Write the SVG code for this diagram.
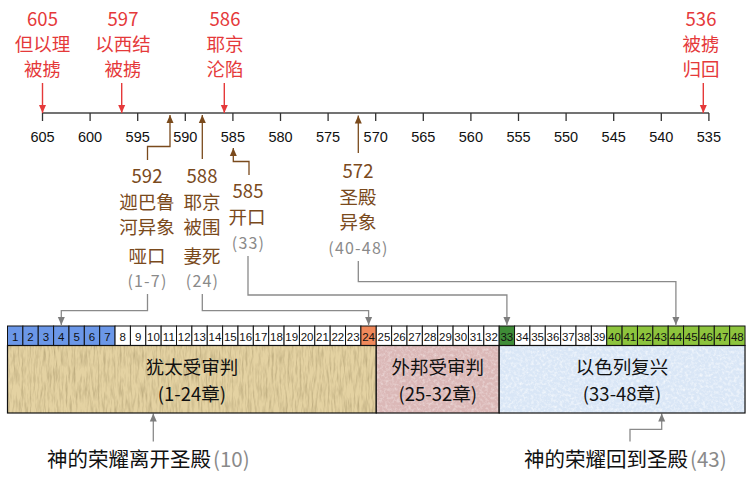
<svg xmlns="http://www.w3.org/2000/svg" width="752" height="480" viewBox="0 0 752 480">
<style>
.ax{font-family:"Liberation Sans",Arial,sans-serif;font-size:14.5px;fill:#111;text-anchor:middle}
.red{font-family:"Noto Sans CJK SC","Noto Sans",sans-serif;font-size:18.5px;fill:#e5393a;text-anchor:middle}
.brn{font-family:"Noto Sans CJK SC","Noto Sans",sans-serif;font-size:18.5px;fill:#7a4a1c;text-anchor:middle}
.gry{font-family:"Noto Sans CJK SC","Noto Sans",sans-serif;font-size:16px;fill:#8a8a8a;text-anchor:middle;letter-spacing:1.2px}
.cell{stroke:#111;stroke-width:1}
.cn{font-family:"Liberation Sans",Arial,sans-serif;font-size:11.5px;fill:#111;text-anchor:middle}
.box{stroke:#111;stroke-width:1.2}
.bt{font-family:"Noto Sans CJK SC","Noto Sans",sans-serif;font-size:18.5px;fill:#111;text-anchor:middle}
.bot{font-family:"Noto Sans CJK SC","Noto Sans",sans-serif;font-size:20.5px;fill:#111}
.rl{stroke:#e5393a;stroke-width:1.4;fill:none}
.bl{stroke:#7a4a1c;stroke-width:1.3;fill:none}
.gl{stroke:#8a8a8a;stroke-width:1.3;fill:none}
.tick{stroke:#333;stroke-width:1.3}
</style>
<defs>
<marker id="ar" markerUnits="userSpaceOnUse" markerWidth="8" markerHeight="8" refX="8" refY="4" orient="auto"><path d="M0,0.5 L8,4 L0,7.5 z" fill="#e5393a"/></marker>
<marker id="ab" markerUnits="userSpaceOnUse" markerWidth="8" markerHeight="8" refX="8" refY="4" orient="auto"><path d="M0,0.5 L8,4 L0,7.5 z" fill="#7a4a1c"/></marker>
<marker id="ag" markerUnits="userSpaceOnUse" markerWidth="8" markerHeight="8" refX="8" refY="4" orient="auto"><path d="M0,0.5 L8,4 L0,7.5 z" fill="#7d7d7d"/></marker>
<filter id="paper" x="0" y="0" width="1" height="1">
<feTurbulence type="fractalNoise" baseFrequency="0.5 0.06" numOctaves="3" seed="4" result="n"/>
<feColorMatrix in="n" type="matrix" values="0 0 0 0 0.45  0 0 0 0 0.36  0 0 0 0 0.18  1.6 0 0 0 -0.65" result="c"/>
<feComposite in="c" in2="SourceAlpha" operator="in"/>
</filter>
<filter id="speck" x="0" y="0" width="1" height="1">
<feTurbulence type="fractalNoise" baseFrequency="0.35" numOctaves="3" seed="7" result="n"/>
<feColorMatrix in="n" type="matrix" values="0 0 0 0 1  0 0 0 0 1  0 0 0 0 1  1.8 0 0 0 -0.75" result="c"/>
<feComposite in="c" in2="SourceAlpha" operator="in"/>
</filter>
</defs>

<g id="axis">
<line x1="42.5" y1="113" x2="709" y2="113" stroke="#444" stroke-width="1.5"/>
<g class="tick">
<line x1="42.5" y1="113" x2="42.5" y2="121"/><line x1="90.1" y1="113" x2="90.1" y2="121"/><line x1="137.7" y1="113" x2="137.7" y2="121"/><line x1="185.3" y1="113" x2="185.3" y2="121"/><line x1="232.9" y1="113" x2="232.9" y2="121"/><line x1="280.5" y1="113" x2="280.5" y2="121"/><line x1="328.1" y1="113" x2="328.1" y2="121"/><line x1="375.7" y1="113" x2="375.7" y2="121"/><line x1="423.3" y1="113" x2="423.3" y2="121"/><line x1="470.9" y1="113" x2="470.9" y2="121"/><line x1="518.5" y1="113" x2="518.5" y2="121"/><line x1="566.1" y1="113" x2="566.1" y2="121"/><line x1="613.7" y1="113" x2="613.7" y2="121"/><line x1="661.3" y1="113" x2="661.3" y2="121"/><line x1="708.9" y1="113" x2="708.9" y2="121"/>
</g>
<text class="ax" x="42.5" y="141.5">605</text><text class="ax" x="90.1" y="141.5">600</text><text class="ax" x="137.7" y="141.5">595</text><text class="ax" x="185.3" y="141.5">590</text><text class="ax" x="232.9" y="141.5">585</text><text class="ax" x="280.5" y="141.5">580</text><text class="ax" x="328.1" y="141.5">575</text><text class="ax" x="375.7" y="141.5">570</text><text class="ax" x="423.3" y="141.5">565</text><text class="ax" x="470.9" y="141.5">560</text><text class="ax" x="518.5" y="141.5">555</text><text class="ax" x="566.1" y="141.5">550</text><text class="ax" x="613.7" y="141.5">545</text><text class="ax" x="661.3" y="141.5">540</text><text class="ax" x="708.9" y="141.5">535</text>
</g>

<g id="connectors">
<path class="rl" d="M42.5,83 V113" marker-end="url(#ar)"/>
<path class="rl" d="M121.7,83 V113" marker-end="url(#ar)"/>
<path class="rl" d="M224.3,83 V113" marker-end="url(#ar)"/>
<path class="rl" d="M703.3,83 V113" marker-end="url(#ar)"/>
<path class="bl" d="M147.5,160 V146.5 H170 V115" marker-end="url(#ab)"/>
<path class="bl" d="M202.3,159 V115" marker-end="url(#ab)"/>
<path class="bl" d="M249,175 V161.5 H233.3 V148" marker-end="url(#ab)"/>
<path class="bl" d="M358.3,153 V115.5" marker-end="url(#ab)"/>
<path class="gl" d="M147.5,294 V310.7 H61.3 V325" marker-end="url(#ag)"/>
<path class="gl" d="M202.3,294 V310.7 H368.6 V325" marker-end="url(#ag)"/>
<path class="gl" d="M248,256 V295 H506.9 V325" marker-end="url(#ag)"/>
<path class="gl" d="M358.3,261 V281.7 H675.9 V325" marker-end="url(#ag)"/>
<path class="gl" d="M153.3,441.5 V413.5" marker-end="url(#ag)"/>
<path class="gl" d="M630,441.5 V429.3 H661.7 V413.5" marker-end="url(#ag)"/>
</g>

<g id="ev605"><text class="red" x="42.5" y="26">605</text><text class="red" x="42.5" y="51">但以理</text><text class="red" x="42.5" y="76">被掳</text></g>
<g id="ev597"><text class="red" x="123" y="26">597</text><text class="red" x="123" y="51">以西结</text><text class="red" x="123" y="76">被掳</text></g>
<g id="ev586"><text class="red" x="225" y="26">586</text><text class="red" x="225" y="51">耶京</text><text class="red" x="225" y="76">沦陷</text></g>
<g id="ev536"><text class="red" x="701" y="26">536</text><text class="red" x="701" y="51">被掳</text><text class="red" x="701" y="76">归回</text></g>

<g id="ev592"><text class="brn" x="147" y="183">592</text><text class="brn" x="147" y="208.5">迦巴鲁</text><text class="brn" x="147" y="233.5">河异象</text><text class="brn" x="147" y="263">哑口</text><text class="gry" x="147.5" y="287">(1-7)</text></g>
<g id="ev588"><text class="brn" x="202" y="183">588</text><text class="brn" x="202" y="208.5">耶京</text><text class="brn" x="202" y="233.5">被围</text><text class="brn" x="202" y="263">妻死</text><text class="gry" x="202.5" y="287">(24)</text></g>
<g id="ev585"><text class="brn" x="248" y="198">585</text><text class="brn" x="247" y="223.5">开口</text><text class="gry" x="248.5" y="248.5">(33)</text></g>
<g id="ev572"><text class="brn" x="358" y="178">572</text><text class="brn" x="358" y="204">圣殿</text><text class="brn" x="358" y="229">异象</text><text class="gry" x="358.5" y="253.5">(40-48)</text></g>

<g id="chapters">
<g class="cell">
<rect x="7.50" y="326" width="15.37" height="19.5" fill="#6b97e8"/><rect x="22.87" y="326" width="15.37" height="19.5" fill="#6b97e8"/><rect x="38.23" y="326" width="15.37" height="19.5" fill="#6b97e8"/><rect x="53.60" y="326" width="15.37" height="19.5" fill="#6b97e8"/><rect x="68.96" y="326" width="15.37" height="19.5" fill="#6b97e8"/><rect x="84.33" y="326" width="15.37" height="19.5" fill="#6b97e8"/><rect x="99.69" y="326" width="15.37" height="19.5" fill="#6b97e8"/>
<rect x="115.06" y="326" width="15.37" height="19.5" fill="#fff"/><rect x="130.42" y="326" width="15.37" height="19.5" fill="#fff"/><rect x="145.79" y="326" width="15.37" height="19.5" fill="#fff"/><rect x="161.15" y="326" width="15.37" height="19.5" fill="#fff"/><rect x="176.52" y="326" width="15.37" height="19.5" fill="#fff"/><rect x="191.88" y="326" width="15.37" height="19.5" fill="#fff"/><rect x="207.25" y="326" width="15.37" height="19.5" fill="#fff"/><rect x="222.61" y="326" width="15.37" height="19.5" fill="#fff"/><rect x="237.98" y="326" width="15.37" height="19.5" fill="#fff"/><rect x="253.34" y="326" width="15.37" height="19.5" fill="#fff"/><rect x="268.71" y="326" width="15.37" height="19.5" fill="#fff"/><rect x="284.07" y="326" width="15.37" height="19.5" fill="#fff"/><rect x="299.44" y="326" width="15.37" height="19.5" fill="#fff"/><rect x="314.80" y="326" width="15.37" height="19.5" fill="#fff"/><rect x="330.17" y="326" width="15.37" height="19.5" fill="#fff"/><rect x="345.53" y="326" width="15.37" height="19.5" fill="#fff"/>
<rect x="360.90" y="326" width="15.37" height="19.5" fill="#f0895b"/>
<rect x="376.26" y="326" width="15.37" height="19.5" fill="#fff"/><rect x="391.63" y="326" width="15.37" height="19.5" fill="#fff"/><rect x="406.99" y="326" width="15.37" height="19.5" fill="#fff"/><rect x="422.36" y="326" width="15.37" height="19.5" fill="#fff"/><rect x="437.72" y="326" width="15.37" height="19.5" fill="#fff"/><rect x="453.09" y="326" width="15.37" height="19.5" fill="#fff"/><rect x="468.45" y="326" width="15.37" height="19.5" fill="#fff"/><rect x="483.82" y="326" width="15.37" height="19.5" fill="#fff"/>
<rect x="499.18" y="326" width="15.37" height="19.5" fill="#3f8c37"/>
<rect x="514.55" y="326" width="15.37" height="19.5" fill="#fff"/><rect x="529.91" y="326" width="15.37" height="19.5" fill="#fff"/><rect x="545.28" y="326" width="15.37" height="19.5" fill="#fff"/><rect x="560.64" y="326" width="15.37" height="19.5" fill="#fff"/><rect x="576.01" y="326" width="15.37" height="19.5" fill="#fff"/><rect x="591.37" y="326" width="15.37" height="19.5" fill="#fff"/>
<rect x="606.74" y="326" width="15.37" height="19.5" fill="#8dc43d"/><rect x="622.10" y="326" width="15.37" height="19.5" fill="#8dc43d"/><rect x="637.47" y="326" width="15.37" height="19.5" fill="#8dc43d"/><rect x="652.83" y="326" width="15.37" height="19.5" fill="#8dc43d"/><rect x="668.20" y="326" width="15.37" height="19.5" fill="#8dc43d"/><rect x="683.56" y="326" width="15.37" height="19.5" fill="#8dc43d"/><rect x="698.93" y="326" width="15.37" height="19.5" fill="#8dc43d"/><rect x="714.29" y="326" width="15.37" height="19.5" fill="#8dc43d"/><rect x="729.66" y="326" width="15.37" height="19.5" fill="#8dc43d"/>
</g>
<text class="cn" x="15.18" y="340.5">1</text><text class="cn" x="30.55" y="340.5">2</text><text class="cn" x="45.91" y="340.5">3</text><text class="cn" x="61.28" y="340.5">4</text><text class="cn" x="76.64" y="340.5">5</text><text class="cn" x="92.01" y="340.5">6</text><text class="cn" x="107.37" y="340.5">7</text><text class="cn" x="122.74" y="340.5">8</text><text class="cn" x="138.10" y="340.5">9</text><text class="cn" x="153.47" y="340.5">10</text><text class="cn" x="168.83" y="340.5">11</text><text class="cn" x="184.20" y="340.5">12</text><text class="cn" x="199.56" y="340.5">13</text><text class="cn" x="214.93" y="340.5">14</text><text class="cn" x="230.29" y="340.5">15</text><text class="cn" x="245.66" y="340.5">16</text><text class="cn" x="261.02" y="340.5">17</text><text class="cn" x="276.39" y="340.5">18</text><text class="cn" x="291.75" y="340.5">19</text><text class="cn" x="307.12" y="340.5">20</text><text class="cn" x="322.48" y="340.5">21</text><text class="cn" x="337.85" y="340.5">22</text><text class="cn" x="353.21" y="340.5">23</text><text class="cn" x="368.58" y="340.5">24</text><text class="cn" x="383.94" y="340.5">25</text><text class="cn" x="399.31" y="340.5">26</text><text class="cn" x="414.67" y="340.5">27</text><text class="cn" x="430.04" y="340.5">28</text><text class="cn" x="445.40" y="340.5">29</text><text class="cn" x="460.77" y="340.5">30</text><text class="cn" x="476.13" y="340.5">31</text><text class="cn" x="491.50" y="340.5">32</text><text class="cn" x="506.86" y="340.5">33</text><text class="cn" x="522.23" y="340.5">34</text><text class="cn" x="537.59" y="340.5">35</text><text class="cn" x="552.96" y="340.5">36</text><text class="cn" x="568.32" y="340.5">37</text><text class="cn" x="583.69" y="340.5">38</text><text class="cn" x="599.05" y="340.5">39</text><text class="cn" x="614.42" y="340.5">40</text><text class="cn" x="629.78" y="340.5">41</text><text class="cn" x="645.15" y="340.5">42</text><text class="cn" x="660.51" y="340.5">43</text><text class="cn" x="675.88" y="340.5">44</text><text class="cn" x="691.24" y="340.5">45</text><text class="cn" x="706.61" y="340.5">46</text><text class="cn" x="721.97" y="340.5">47</text><text class="cn" x="737.34" y="340.5">48</text>
</g>

<g id="judah">
<rect x="7.5" y="345.5" width="368.76" height="67.5" fill="#e4d2a2"/>
<rect x="7.5" y="345.5" width="368.76" height="67.5" fill="#000" filter="url(#paper)"/>
<rect class="box" x="7.5" y="345.5" width="368.76" height="67.5" fill="none"/>
<text class="bt" x="191.9" y="373.5">犹太受审判</text><text class="bt" x="191.9" y="401">(1-24章)</text>
</g>
<g id="nations">
<rect x="376.26" y="345.5" width="122.92" height="67.5" fill="#dbb8b7"/>
<rect x="376.26" y="345.5" width="122.92" height="67.5" fill="#000" filter="url(#speck)" opacity="0.5"/>
<rect class="box" x="376.26" y="345.5" width="122.92" height="67.5" fill="none"/>
<text class="bt" x="437.7" y="373.5">外邦受审判</text><text class="bt" x="437.7" y="401">(25-32章)</text>
</g>
<g id="israel">
<rect x="499.18" y="345.5" width="245.84" height="67.5" fill="#d9e6f6"/>
<rect x="499.18" y="345.5" width="245.84" height="67.5" fill="#000" filter="url(#speck)" opacity="0.8"/>
<rect class="box" x="499.18" y="345.5" width="245.84" height="67.5" fill="none"/>
<text class="bt" x="622.1" y="373.5">以色列复兴</text><text class="bt" x="622.1" y="401">(33-48章)</text>
</g>

<g id="glory-leaves"><text class="bot" x="47" y="467">神的荣耀离开圣殿<tspan fill="#8a8a8a" dx="2">(10)</tspan></text></g>
<g id="glory-returns"><text class="bot" x="524" y="467">神的荣耀回到圣殿<tspan fill="#8a8a8a" dx="2">(43)</tspan></text></g>
</svg>
